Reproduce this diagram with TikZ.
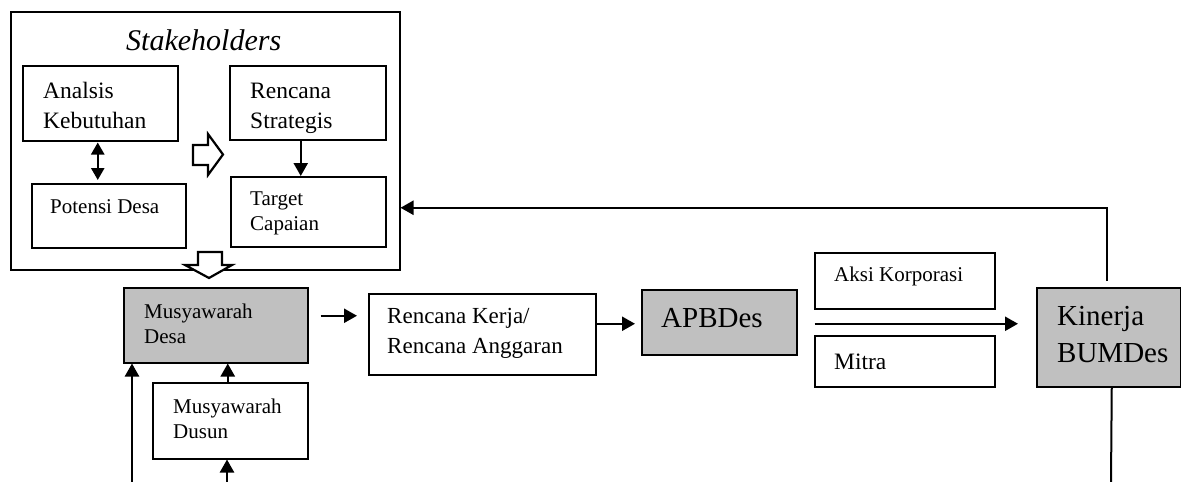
\documentclass[tikz,border=0pt]{standalone}
\usepackage{fontspec}
\setmainfont{Liberation Serif}
\usetikzlibrary{arrows.meta,calc}
\definecolor{boxgray}{RGB}{192,192,192}
\begin{document}
\begin{tikzpicture}[x=1pt,y=-1pt,
  box/.style={draw, line width=1.5pt, inner sep=0pt, anchor=north west},
  gbox/.style={box, fill=boxgray},
  txt/.style={anchor=base west, inner sep=0pt},
  arr/.style={line width=2.4pt, -{Triangle[length=13pt,width=14pt]}},
  darr/.style={line width=2.4pt, {Triangle[length=12pt,width=13pt]}-{Triangle[length=12pt,width=13pt]}},
  plain/.style={line width=2pt},
  hollow/.style={draw, fill=white, line width=2.2pt, line join=miter}]
\useasboundingbox (0,0) rectangle (1181,482);

% boxes
\node[box, minimum width=389pt, minimum height=258pt] (stake) at (10,11) {};
\node[box, minimum width=155pt, minimum height=75pt] (an) at (22,65) {};
\node[box, minimum width=154pt, minimum height=64pt] (pot) at (31,183) {};
\node[box, minimum width=156pt, minimum height=74pt] (rs) at (229,65) {};
\node[box, minimum width=155pt, minimum height=70pt] (tc) at (230,176) {};
\node[gbox, minimum width=184pt, minimum height=75pt] (desa) at (123,287) {};
\node[box, minimum width=155pt, minimum height=76pt] (dusun) at (152,382) {};
\node[box, minimum width=227pt, minimum height=81pt] (rk) at (368,293) {};
\node[gbox, minimum width=155pt, minimum height=65pt] (apb) at (641,289) {};
\node[box, minimum width=180pt, minimum height=56pt] (aksi) at (814,252) {};
\node[box, minimum width=180pt, minimum height=51pt] (mitra) at (814,335) {};
\node[gbox, minimum width=144pt, minimum height=99pt] (kin) at (1036,287) {};

% texts
\node[txt, font=\fontsize{30}{36}\selectfont\itshape] (t0) at (126,50) {Stakeholders};
\begin{scope}[font=\fontsize{23.5}{28}\selectfont]
\node[txt] (t1a) at (43,98) {Analsis};
\node[txt] (t1b) at (43,128) {Kebutuhan};
\node[txt] (t3a) at (250,98) {Rencana};
\node[txt] (t3b) at (250,128) {Strategis};
\node[txt] (t11) at (834,369) {Mitra};
\end{scope}
\begin{scope}[font=\fontsize{21}{25}\selectfont]
\node[txt] (t2) at (50,213) {Potensi Desa};
\node[txt] (t4a) at (250,205) {Target};
\node[txt] (t4b) at (250,230) {Capaian};
\node[txt] (t5a) at (144,318) {Musyawarah};
\node[txt] (t5b) at (144,343) {Desa};
\node[txt] (t6a) at (173,413) {Musyawarah};
\node[txt] (t6b) at (173,438) {Dusun};
\node[txt] (t10) at (834,281) {Aksi Korporasi};
\end{scope}
\begin{scope}[font=\fontsize{23}{28}\selectfont]
\node[txt] (t7a) at (387,323) {Rencana Kerja/};
\node[txt] (t7b) at (387,353) {Rencana Anggaran};
\end{scope}
\begin{scope}[font=\fontsize{29}{35}\selectfont]
\node[txt] (t8) at (661,327) {APBDes};
\node[txt] (t9a) at (1057,325) {Kinerja};
\node[txt] (t9b) at (1057,362) {BUMDes};
\end{scope}

% hollow block arrows
\draw[hollow] (193,145) -- (208,145) -- (208,134) -- (223,154.5) -- (208,175) -- (208,165) -- (193,165) -- cycle;
\draw[hollow] (198,252) -- (222,252) -- (222,265) -- (232,265) -- (209,278) -- (185,265) -- (198,265) -- cycle;

% connectors
\draw[darr] ($(an.south)+(-2.5,1)$) -- ($(an.south |- pot.north)+(-2.5,-3)$);
\draw[arr] ($(rs.south)+(-7,0)$) -- ($(rs.south |- tc.north)+(-7,0)$);
\draw[arr] ($(kin.north)+(-2,-6)$) |- ($(stake.east)+(0,67)$);
\coordinate (kb) at (1111,482);
\draw[plain] ($(kin.south)+(3,0)$) -- (kb);
\draw[arr] ($(desa.east)+(12,-9.5)$) -- ($(rk.west)+(-11,-18.5)$);
\draw[arr] ($(rk.east)+(0,-10.5)$) -- ($(apb.west)+(-6,1.5)$);
\draw[arr] ($(apb.east)+(17,1.5)$) -- ($(kin.west)+(-18,-13.5)$);
\draw[arr] ($(dusun.north)+(-2.5,0)$) -- ($(dusun.north |- desa.south)+(-2.5,0)$);
\coordinate (bd) at (227,482);
\draw[arr] (bd) -- (bd |- dusun.south);
\coordinate (bl) at (132,482);
\draw[arr] (bl) -- (bl |- desa.south);
\end{tikzpicture}
\end{document}
